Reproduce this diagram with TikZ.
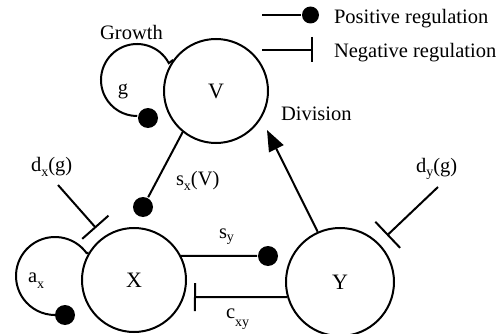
\documentclass[tikz,border=0pt]{standalone}
\usepackage{fontspec}
\setmainfont{Liberation Serif}
\usetikzlibrary{arrows.meta}
\newcommand{\lowsub}[2][5pt]{\raisebox{-#1}{\fontsize{14}{14}\selectfont #2}}
\begin{document}
\begin{tikzpicture}[x=1pt,y=1pt,line width=2pt,
  every node/.style={font=\fontsize{20.5}{24}\selectfont},
  state/.style={circle,draw,inner sep=0pt,font=\fontsize{22}{24}\selectfont},
  blob/.style={circle,fill,inner sep=0pt,minimum size=20pt},
  lbl/.style={inner sep=0pt,anchor=base west},
  inhib/.style={-{Bar[width=#1]}},
  act/.style={-{Triangle[length=21pt,width=16pt]}}]
\useasboundingbox (0,0) rectangle (499,333);

% main states
\node[state,minimum size=104pt] (V) at (216,242) {V};
\node[state,minimum size=104pt] (X) at (134,53) {X};
\node[state,minimum size=108pt] (Y) at (340,51) {Y};

% dots
\node[blob] (gdot) at (148,215) {};
\node[blob] (sxdot) at (143,126) {};
\node[blob] (axdot) at (65,18) {};
\node[blob] (sydot) at (268,77) {};
\node[blob,minimum size=17pt] (legdot) at (310.5,318) {};

% labels
\node[inner sep=0pt,anchor=base] (growth) at (131.5,294) {Growth};
\node[inner sep=0pt,anchor=base] (glab) at (123,238.5) {g};
\node[lbl] (div) at (280,213) {Division};
\node[lbl] (sxl) at (175,148) {s\lowsub{x}(V)};
\node[lbl] (dxl) at (30,162) {d\lowsub{x}(g)};
\node[lbl] (dyl) at (415,161) {d\lowsub{y}(g)};
\node[lbl] (syl) at (218,95) {s\lowsub[3.5pt]{y}};
\node[lbl] (cxyl) at (225,15) {c\lowsub[8pt]{xy}};
\node[lbl] (axl) at (27,51) {a\lowsub[6pt]{x}};
\node[lbl] (pos) at (333,309) {Positive regulation};
\node[lbl] (neg) at (333,276) {Negative regulation};

% free ends
\coordinate (dxs) at (58,148);
\coordinate (dxb) at (96,105);
\coordinate (dys) at (438,146);
\coordinate (dyb) at (387,97.5);
\coordinate (cxyb) at (194,36);
\coordinate (divtip) at (267,203);
\coordinate (legp) at (262,318);
\coordinate (legn) at (262,283.5);
\coordinate (legnb) at (313,283.5);
\coordinate (gloop) at (137,253);
\coordinate (aloop) at (55,57);

% growth loop
\draw (V.144) -- ([shift={(28:36)}]gloop) arc[start angle=28,end angle=270,radius=36] -- (gdot);
% a_x loop
\draw (X.149) -- ([shift={(36:39)}]aloop) arc[start angle=36,end angle=270,radius=39] -- (axdot);
% s_x(V)
\draw (V.231) -- (sxdot);
% d_x(g)
\draw[inhib=35pt] (dxs) -- (dxb);
% d_y(g)
\draw[inhib=36pt] (dys) -- (dyb);
% s_y
\draw (X.27) -- (sydot);
% c_xy
\draw[inhib=28pt] (Y.196) -- (cxyb);
% division
\draw[act] (Y.114) -- (divtip);
% legend
\draw (legp) -- (legdot);
\draw[inhib=25pt] (legn) -- (legnb);
\end{tikzpicture}
\end{document}
